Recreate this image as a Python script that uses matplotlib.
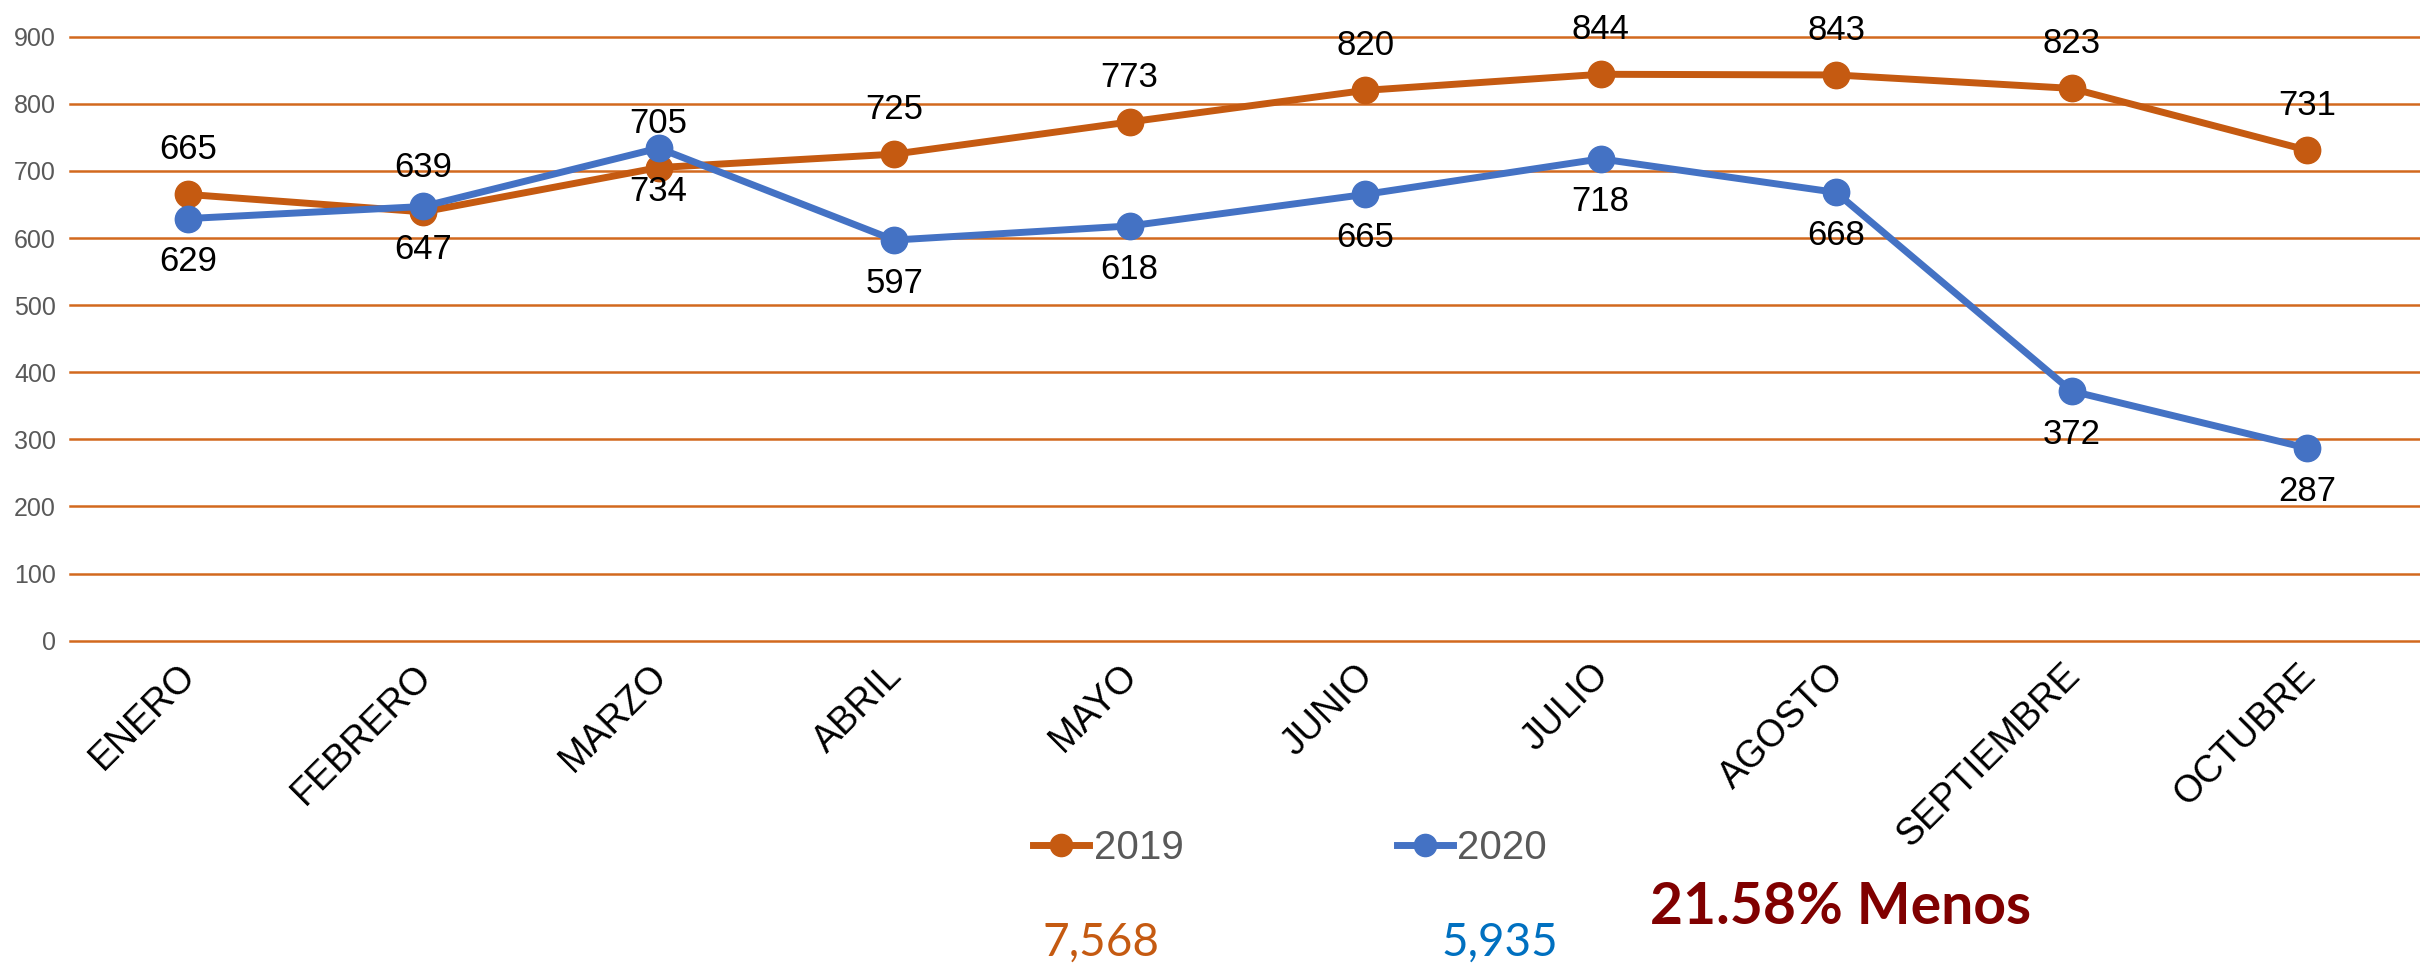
import matplotlib
matplotlib.use("Agg")
import matplotlib.pyplot as plt
from matplotlib.lines import Line2D
from matplotlib.transforms import ScaledTranslation

months = ["ENERO", "FEBRERO", "MARZO", "ABRIL", "MAYO", "JUNIO",
          "JULIO", "AGOSTO", "SEPTIEMBRE", "OCTUBRE"]
y2019 = [665, 639, 705, 725, 773, 820, 844, 843, 823, 731]
y2020 = [629, 647, 734, 597, 618, 665, 718, 668, 372, 287]
yticks = [0, 100, 200, 300, 400, 500, 600, 700, 800, 900]
series_names = ["2019", "2020"]
totals = ["7,568", "5,935"]
summary = "21.58% Menos"

ORANGE = "#C55A11"
BLUE = "#4472C4"
GRID = "#D2691E"

plt.rcParams['font.family'] = ['Liberation Sans', 'DejaVu Sans']

W, H = 2420, 973
fig = plt.figure(figsize=(W / 100, H / 100), dpi=100)
fig.patch.set_facecolor("white")

left_px, zero_px, top_px = 70, 640.7, 0
ax = fig.add_axes([left_px / W, (H - zero_px) / H, (W - left_px) / W, (zero_px - top_px) / H])
ax.patch.set_alpha(0)
px_per_unit = (640.7 - 36.7) / 900
ax.set_ylim(0, 900 + 36.7 / px_per_unit)
x = list(range(len(months)))
ax.set_xlim(-0.5, 9.48)

for s in ax.spines.values():
    s.set_visible(False)

ax.set_yticks(yticks)
ax.set_yticklabels([str(v) for v in yticks])
ax.tick_params(axis='y', length=0, pad=10, labelsize=18, labelcolor="#595959")
ax.yaxis.grid(True, color=GRID, linewidth=1.8)
for gl in ax.get_ygridlines():
    gl.set_clip_on(False)
ax.set_axisbelow(True)

ax.set_xticks(x)
ax.set_xticklabels(months, rotation=45, ha='right', va='top', rotation_mode='anchor',
                   fontsize=27, color="black")
ax.tick_params(axis='x', length=0, pad=12)
shift = ScaledTranslation(-10 / 100, 0, fig.dpi_scale_trans)
for lbl in ax.get_xticklabels():
    lbl.set_transform(lbl.get_transform() + shift)

ax.plot(x, y2019, color=ORANGE, lw=5, marker='o', markersize=19, clip_on=False, zorder=3)
ax.plot(x, y2020, color=BLUE, lw=5, marker='o', markersize=19, clip_on=False, zorder=4)

for xi, v in zip(x, y2019):
    ax.annotate(str(v), (xi, v), xytext=(0, 32), textcoords='offset points',
                ha='center', va='center', fontsize=25, color='black', annotation_clip=False)
for xi, v in zip(x, y2020):
    ax.annotate(str(v), (xi, v), xytext=(0, -31), textcoords='offset points',
                ha='center', va='center', fontsize=25, color='black', annotation_clip=False)

handles = [Line2D([], [], color=ORANGE, lw=5, marker='o', markersize=16),
           Line2D([], [], color=BLUE, lw=5, marker='o', markersize=16)]
leg = fig.legend(handles, series_names, loc='center', bbox_to_anchor=(1290 / W, 1 - 848 / H),
                 ncol=2, frameon=False, fontsize=29, handlelength=1.4, handletextpad=0.1,
                 columnspacing=5.3, labelcolor="#595959")

fig.text(1101 / W, 1 - 943 / H, totals[0], ha='center', va='center', fontsize=33,
         color=ORANGE, family=['Lato', 'DejaVu Sans'])
fig.text(1500 / W, 1 - 943 / H, totals[1], ha='center', va='center', fontsize=33,
         color="#0070C0", family=['Lato', 'DejaVu Sans'])
fig.text(1841 / W, 1 - 908 / H, summary, ha='center', va='center', fontsize=41,
         color="#800000", fontweight='bold', family=['Lato', 'DejaVu Sans'])

fig.savefig("out.png", dpi=100)
